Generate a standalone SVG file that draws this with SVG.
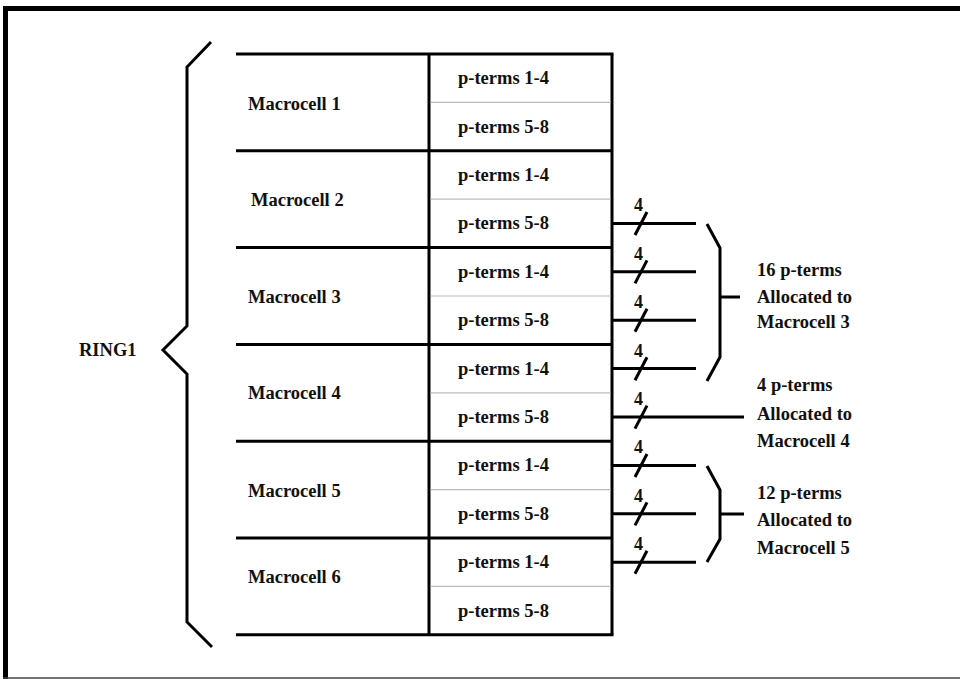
<svg xmlns="http://www.w3.org/2000/svg" width="960" height="679" viewBox="0 0 960 679">
  <style>
    .t { font-family: "Liberation Serif", "Times New Roman", serif; font-weight: bold; font-size: 18.5px; fill: #111; }
    .n { font-family: "Liberation Serif", "Times New Roman", serif; font-weight: bold; font-size: 18px; fill: #111; text-anchor: middle; }
    .k { stroke: #000; stroke-width: 3; fill: none; }
    .g { stroke: #bbb; stroke-width: 1.2; fill: none; }
  </style>
  <rect width="960" height="679" fill="#fff"/>
  <!-- frame -->
  <g id="frame">
    <line x1="5.5" y1="6" x2="5.5" y2="679" stroke="#000" stroke-width="5"/>
    <line x1="3" y1="8.5" x2="960" y2="8.5" stroke="#000" stroke-width="5"/>
    <line x1="3" y1="678" x2="960" y2="678" stroke="#444" stroke-width="1.5"/>
  </g>
  <!-- ring brace -->
  <g id="ring1">
    <polyline class="k" points="211,42 187,67 187,326 163,350 187,374 187,622 212,647"/>
    <text class="t" x="79" y="356">RING1</text>
  </g>
  <!-- macrocell table -->
  <g id="table">
    <line class="k" x1="236" y1="54" x2="613.5" y2="54"/>
    <line class="k" x1="236" y1="150.8" x2="612" y2="150.8"/>
    <line class="k" x1="236" y1="247.6" x2="612" y2="247.6"/>
    <line class="k" x1="236" y1="344.4" x2="612" y2="344.4"/>
    <line class="k" x1="236" y1="441.2" x2="612" y2="441.2"/>
    <line class="k" x1="236" y1="538" x2="612" y2="538"/>
    <line class="k" x1="236" y1="634.8" x2="613.5" y2="634.8"/>
    <line class="k" x1="429" y1="54" x2="429" y2="634.8"/>
    <line class="k" x1="612" y1="54" x2="612" y2="634.8"/>
    <line class="g" x1="430.5" y1="102.4" x2="610.5" y2="102.4"/>
    <line class="g" x1="430.5" y1="199.2" x2="610.5" y2="199.2"/>
    <line class="g" x1="430.5" y1="296" x2="610.5" y2="296"/>
    <line class="g" x1="430.5" y1="392.8" x2="610.5" y2="392.8"/>
    <line class="g" x1="430.5" y1="489.6" x2="610.5" y2="489.6"/>
    <line class="g" x1="430.5" y1="586.4" x2="610.5" y2="586.4"/>
  </g>
  <g id="mc1">
    <text class="t" x="248" y="110">Macrocell 1</text>
    <text class="t" x="458" y="84">p-terms 1-4</text>
    <text class="t" x="458" y="133">p-terms 5-8</text>
  </g>
  <g id="mc2">
    <text class="t" x="251" y="206">Macrocell 2</text>
    <text class="t" x="458" y="181">p-terms 1-4</text>
    <text class="t" x="458" y="229">p-terms 5-8</text>
  </g>
  <g id="mc3">
    <text class="t" x="248" y="303">Macrocell 3</text>
    <text class="t" x="458" y="278">p-terms 1-4</text>
    <text class="t" x="458" y="326">p-terms 5-8</text>
  </g>
  <g id="mc4">
    <text class="t" x="248" y="399">Macrocell 4</text>
    <text class="t" x="458" y="375">p-terms 1-4</text>
    <text class="t" x="458" y="423">p-terms 5-8</text>
  </g>
  <g id="mc5">
    <text class="t" x="248" y="497">Macrocell 5</text>
    <text class="t" x="458" y="471">p-terms 1-4</text>
    <text class="t" x="458" y="520">p-terms 5-8</text>
  </g>
  <g id="mc6">
    <text class="t" x="248" y="583">Macrocell 6</text>
    <text class="t" x="458" y="568">p-terms 1-4</text>
    <text class="t" x="458" y="617">p-terms 5-8</text>
  </g>
  <!-- p-term buses, 4 wires each -->
  <g id="connectors">
    <g id="bus1"><line class="k" x1="612" y1="223.4" x2="696" y2="223.4"/><line class="k" x1="635" y1="235" x2="647" y2="212"/><text class="n" x="638.5" y="211">4</text></g>
    <g id="bus2"><line class="k" x1="612" y1="271.8" x2="696" y2="271.8"/><line class="k" x1="635" y1="283.4" x2="647" y2="260.4"/><text class="n" x="638.5" y="259.5">4</text></g>
    <g id="bus3"><line class="k" x1="612" y1="320.2" x2="696" y2="320.2"/><line class="k" x1="635" y1="331.8" x2="647" y2="308.8"/><text class="n" x="638.5" y="308">4</text></g>
    <g id="bus4"><line class="k" x1="612" y1="368.6" x2="696" y2="368.6"/><line class="k" x1="635" y1="380.2" x2="647" y2="357.2"/><text class="n" x="638.5" y="356.5">4</text></g>
    <g id="bus5"><line class="k" x1="612" y1="417" x2="744" y2="417"/><line class="k" x1="635" y1="428.6" x2="647" y2="405.6"/><text class="n" x="638.5" y="405">4</text></g>
    <g id="bus6"><line class="k" x1="612" y1="465.4" x2="696" y2="465.4"/><line class="k" x1="635" y1="477" x2="647" y2="454"/><text class="n" x="638.5" y="453">4</text></g>
    <g id="bus7"><line class="k" x1="612" y1="513.8" x2="696" y2="513.8"/><line class="k" x1="635" y1="525.4" x2="647" y2="502.4"/><text class="n" x="638.5" y="501.5">4</text></g>
    <g id="bus8"><line class="k" x1="612" y1="562.2" x2="696" y2="562.2"/><line class="k" x1="635" y1="573.8" x2="647" y2="550.8"/><text class="n" x="638.5" y="550">4</text></g>
    <g id="brace-mc3">
      <polyline class="k" points="707,224 720,248 720,357 707,381"/>
      <line class="k" x1="720" y1="297" x2="740" y2="297"/>
    </g>
    <g id="brace-mc5">
      <polyline class="k" points="707,466 720,490 720,539 707,562"/>
      <line class="k" x1="720" y1="514" x2="744" y2="514"/>
    </g>
  </g>
  <!-- allocation notes -->
  <g id="alloc-mc3">
    <text class="t" x="757" y="276">16 p-terms</text>
    <text class="t" x="757" y="303">Allocated to</text>
    <text class="t" x="757" y="328">Macrocell 3</text>
  </g>
  <g id="alloc-mc4">
    <text class="t" x="757" y="391">4 p-terms</text>
    <text class="t" x="757" y="420">Allocated to</text>
    <text class="t" x="757" y="447">Macrocell 4</text>
  </g>
  <g id="alloc-mc5">
    <text class="t" x="757" y="499">12 p-terms</text>
    <text class="t" x="757" y="526">Allocated to</text>
    <text class="t" x="757" y="554">Macrocell 5</text>
  </g>
</svg>
